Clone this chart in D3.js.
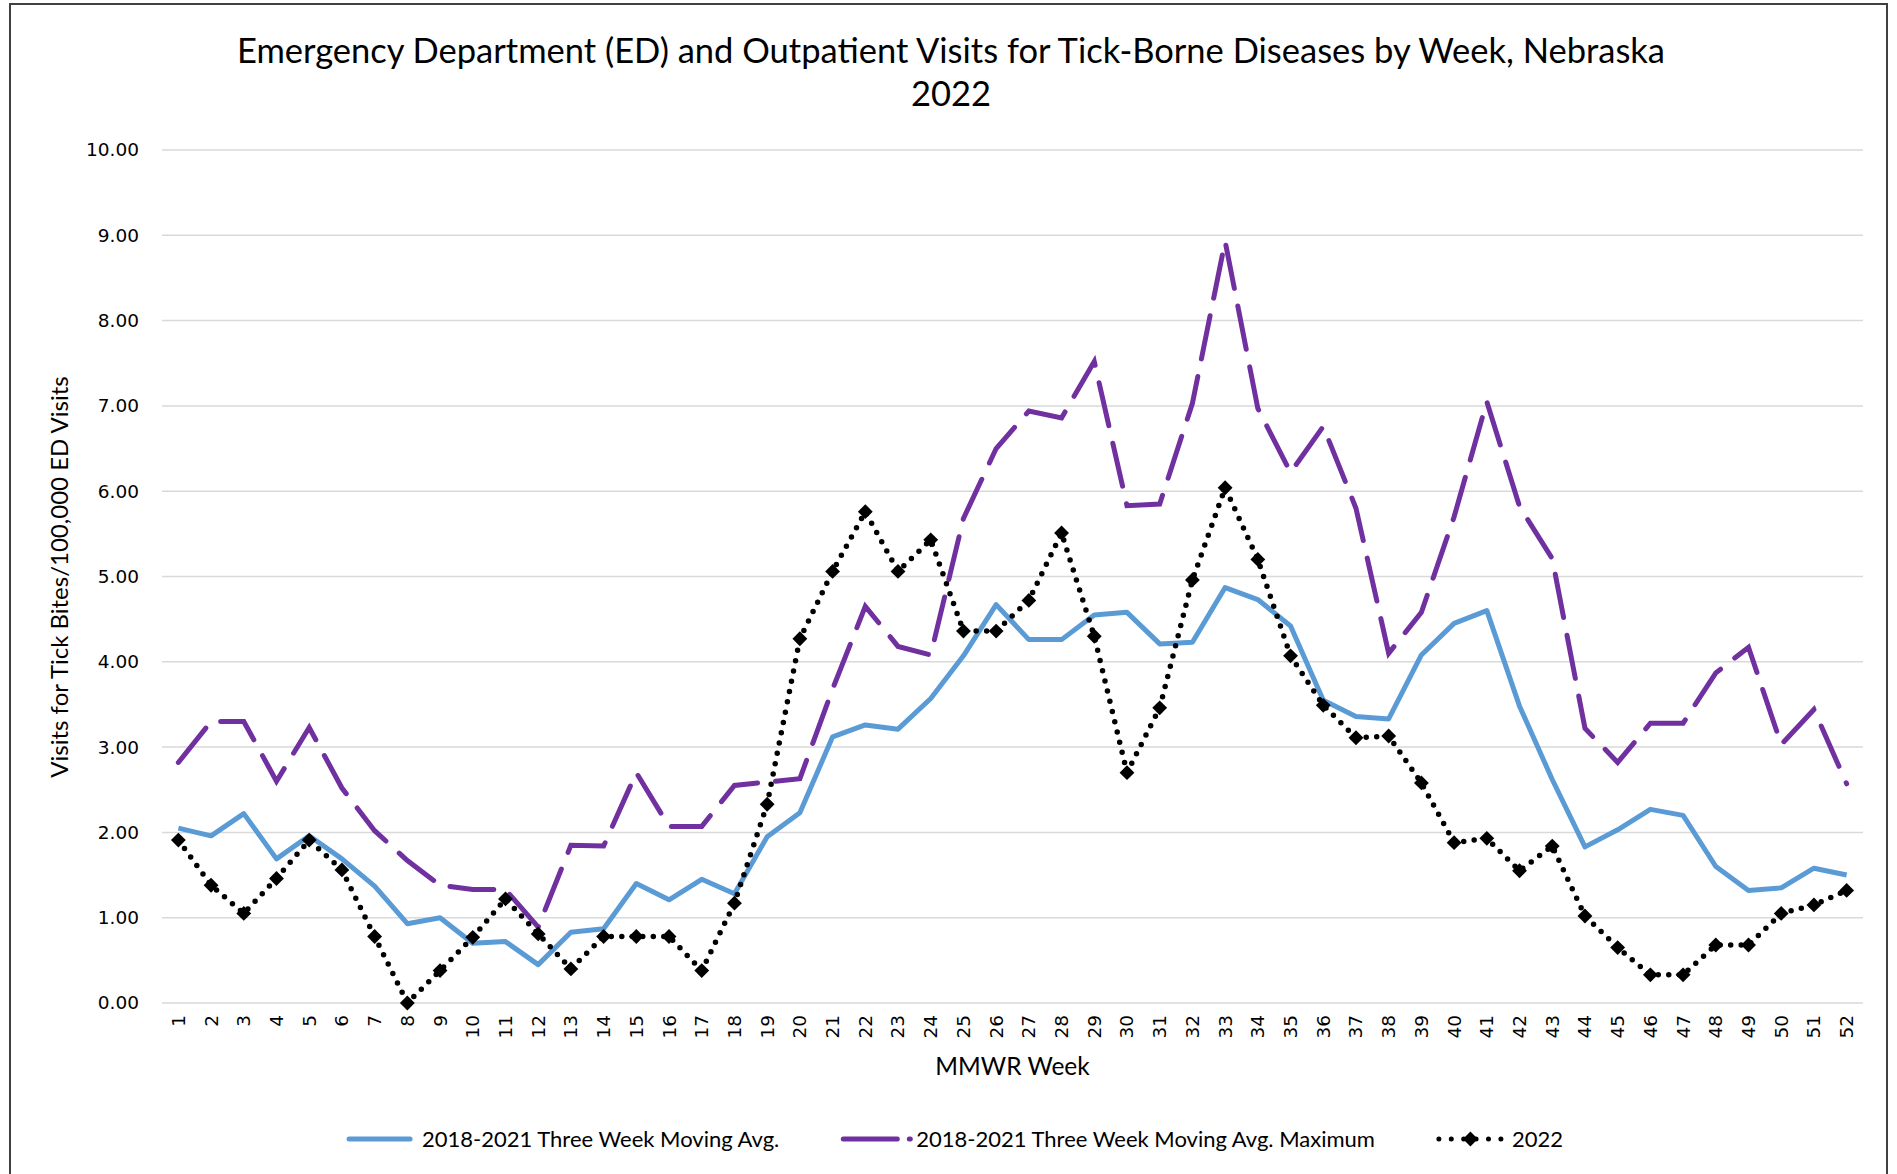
<!DOCTYPE html>
<html>
  <head>
    <meta http-equiv="Content-Type" content="text/html;charset=utf-8">
    <title>Tick-Borne Diseases by Week, Nebraska 2022</title>
    <script type="text/javascript" src="https://d3js.org/d3.v7.min.js"></script>
    <style>
      html, body {
        margin: 0;
        padding: 0;
        background: #fff;
      }
      .title, .axis-title, .legend text {
        font-family: Lato, "Open Sans", sans-serif;
        fill: #000;
      }
      .axis text {
        font-family: "DejaVu Sans", Verdana, sans-serif;
        font-size: 18.5px;
        fill: #000;
      }
      .grid line {
        stroke: #d9d9d9;
        stroke-width: 1.5px;
      }
      path.line {
        fill: none;
      }
    </style>
  </head>
  <body>
    <script type="text/javascript">

var weeks = d3.range(1, 53);

var movingAvg = [
  2.05, 1.96, 2.22, 1.69, 1.96, 1.69, 1.37, 0.93, 1.00, 0.70,
  0.72, 0.45, 0.83, 0.87, 1.40, 1.21, 1.45, 1.28, 1.95, 2.23,
  3.12, 3.26, 3.21, 3.57, 4.07, 4.67, 4.26, 4.26, 4.55, 4.58,
  4.21, 4.23, 4.87, 4.73, 4.42, 3.55, 3.36, 3.33, 4.08, 4.45,
  4.60, 3.48, 2.62, 1.83, 2.03, 2.27, 2.20, 1.60, 1.32, 1.35,
  1.58, 1.50
];

var movingAvgMax = [
  2.82, 3.30, 3.30, 2.60, 3.23, 2.52, 2.02, 1.67, 1.38, 1.33,
  1.33, 0.89, 1.85, 1.84, 2.70, 2.07, 2.07, 2.55, 2.59, 2.63,
  3.68, 4.65, 4.18, 4.08, 5.68, 6.50, 6.94, 6.86, 7.52, 5.83,
  5.85, 7.03, 8.93, 6.97, 6.22, 6.76, 5.80, 4.10, 4.58, 5.70,
  7.05, 5.82, 5.21, 3.22, 2.82, 3.28, 3.28, 3.87, 4.17, 3.03,
  3.44, 2.57
];

var visits2022 = [
  1.91, 1.38, 1.05, 1.46, 1.91, 1.56, 0.78, 0.00, 0.38, 0.77,
  1.22, 0.81, 0.40, 0.78, 0.78, 0.78, 0.38, 1.17, 2.33, 4.27,
  5.06, 5.76, 5.06, 5.43, 4.36, 4.36, 4.72, 5.51, 4.30, 2.70,
  3.46, 4.96, 6.04, 5.20, 4.07, 3.49, 3.11, 3.13, 2.58, 1.88,
  1.93, 1.55, 1.84, 1.02, 0.65, 0.33, 0.33, 0.68, 0.68, 1.05,
  1.15, 1.32
];

var yTicks = d3.range(0, 11);

var seriesNames = [
  "2018-2021 Three Week Moving Avg.",
  "2018-2021 Three Week Moving Avg. Maximum",
  "2022"
];

var titleLines = [
  "Emergency Department (ED) and Outpatient Visits for Tick-Borne Diseases by Week, Nebraska",
  "2022"
];

var W = 1897, H = 1174;
var margin = {left: 162, right: 34, top: 150, bottom: 171};

var svg = d3.select("body").append("svg")
  .attr("width", W)
  .attr("height", H);

svg.append("rect")
  .attr("width", W).attr("height", H)
  .attr("fill", "#fff");

// chart border
svg.append("rect")
  .attr("x", 10).attr("y", 4)
  .attr("width", W - 20).attr("height", H + 10)
  .attr("fill", "none")
  .attr("stroke", "#404040")
  .attr("stroke-width", 2);

svg.selectAll("text.title")
  .data(titleLines)
  .enter().append("text")
  .attr("class", "title")
  .attr("x", 951)
  .attr("y", function(d, i) { return 63 + i * 43; })
  .attr("text-anchor", "middle")
  .style("font-size", "34.5px")
  .text(function(d) { return d; });

var x = d3.scaleBand()
  .domain(weeks)
  .range([margin.left, W - margin.right]);

var y = d3.scaleLinear()
  .domain([0, 10])
  .range([H - margin.bottom, margin.top]);

var cx = function(d, i) { return x(weeks[i]) + x.bandwidth() / 2; };

// gridlines
svg.append("g")
  .attr("class", "grid")
  .selectAll("line")
  .data(yTicks)
  .enter().append("line")
  .attr("x1", margin.left)
  .attr("x2", W - margin.right)
  .attr("y1", function(d) { return y(d); })
  .attr("y2", function(d) { return y(d); });

var yAxis = d3.axisLeft(y)
  .tickValues(yTicks)
  .tickFormat(d3.format(".2f"))
  .tickSize(0)
  .tickPadding(23);

svg.append("g")
  .attr("class", "axis y")
  .attr("transform", "translate(" + margin.left + ",0)")
  .call(yAxis)
  .call(function(g) { g.select(".domain").remove(); });

var xAxis = d3.axisBottom(x).tickSize(0);

svg.append("g")
  .attr("class", "axis x")
  .attr("transform", "translate(0," + y(0) + ")")
  .call(xAxis)
  .call(function(g) { g.select(".domain").remove(); })
  .selectAll("text")
  .attr("transform", "rotate(-90)")
  .attr("text-anchor", "end")
  .attr("x", -12)
  .attr("y", 0)
  .attr("dy", "0.35em");

// axis titles
svg.append("text")
  .attr("class", "axis-title")
  .attr("x", (margin.left + W - margin.right) / 2)
  .attr("y", 1075)
  .attr("text-anchor", "middle")
  .style("font-size", "24.5px")
  .text("MMWR Week");

svg.append("text")
  .attr("class", "axis-title")
  .attr("transform", "translate(68," + 577 + ") rotate(-90)")
  .attr("text-anchor", "middle")
  .style("font-size", "24px")
  .text("Visits for Tick Bites/100,000 ED Visits");

var line = d3.line()
  .x(cx)
  .y(function(d) { return y(d); });

svg.append("path")
  .attr("class", "line")
  .attr("d", line(movingAvg))
  .attr("stroke", "#5b9bd5")
  .attr("stroke-width", 5)
  .attr("stroke-linejoin", "round");

svg.append("path")
  .attr("class", "line")
  .attr("d", line(movingAvgMax))
  .attr("stroke", "#7030a0")
  .attr("stroke-width", 5)
  .attr("stroke-dasharray", "44,18")
  .attr("stroke-linecap", "round");

svg.append("path")
  .attr("class", "line")
  .attr("d", line(visits2022))
  .attr("stroke", "#000")
  .attr("stroke-width", 5.5)
  .attr("stroke-dasharray", "0,10.5")
  .attr("stroke-linecap", "round");

var diamond = d3.symbol().type(d3.symbolSquare).size(110);

svg.append("g")
  .selectAll("path")
  .data(visits2022)
  .enter().append("path")
  .attr("d", diamond)
  .attr("fill", "#000")
  .attr("transform", function(d, i) {
    return "translate(" + cx(d, i) + "," + y(d) + ") rotate(45)";
  });

// legend
var legend = svg.append("g").attr("class", "legend");
var legendY = 1139;
var sampleW = 63;
var items = legend.selectAll("g")
  .data(seriesNames)
  .enter().append("g");

items.append("text")
  .attr("x", sampleW + 12)
  .attr("y", legendY)
  .attr("dy", "0.35em")
  .style("font-size", "22px")
  .text(function(d) { return d; });

items.each(function(d, i) {
  var g = d3.select(this);
  if (i === 0) {
    g.append("line")
      .attr("x1", 2).attr("x2", sampleW)
      .attr("y1", legendY).attr("y2", legendY)
      .attr("stroke", "#5b9bd5").attr("stroke-width", 5)
      .attr("stroke-linecap", "round");
  } else if (i === 1) {
    g.append("line")
      .attr("x1", 2).attr("x2", sampleW + 6)
      .attr("y1", legendY).attr("y2", legendY)
      .attr("stroke", "#7030a0").attr("stroke-width", 5)
      .attr("stroke-dasharray", "54,12")
      .attr("stroke-linecap", "round");
  } else {
    g.append("line")
      .attr("x1", 2).attr("x2", sampleW + 2)
      .attr("y1", legendY).attr("y2", legendY)
      .attr("stroke", "#000").attr("stroke-width", 5)
      .attr("stroke-dasharray", "0,12.4")
      .attr("stroke-linecap", "round");
    g.append("path")
      .attr("d", diamond)
      .attr("fill", "#000")
      .attr("transform", "translate(" + (sampleW / 2 + 2) + "," + legendY + ") rotate(45)");
  }
});

var gap = 62;
var widths = [];
items.select("text").each(function() {
  widths.push(sampleW + 12 + this.getComputedTextLength());
});
var total = d3.sum(widths) + gap * (widths.length - 1);
var pos = 955 - total / 2;
items.attr("transform", function(d, i) {
  var t = "translate(" + pos + ",0)";
  pos += widths[i] + gap;
  return t;
});

    </script>
  </body>
</html>
